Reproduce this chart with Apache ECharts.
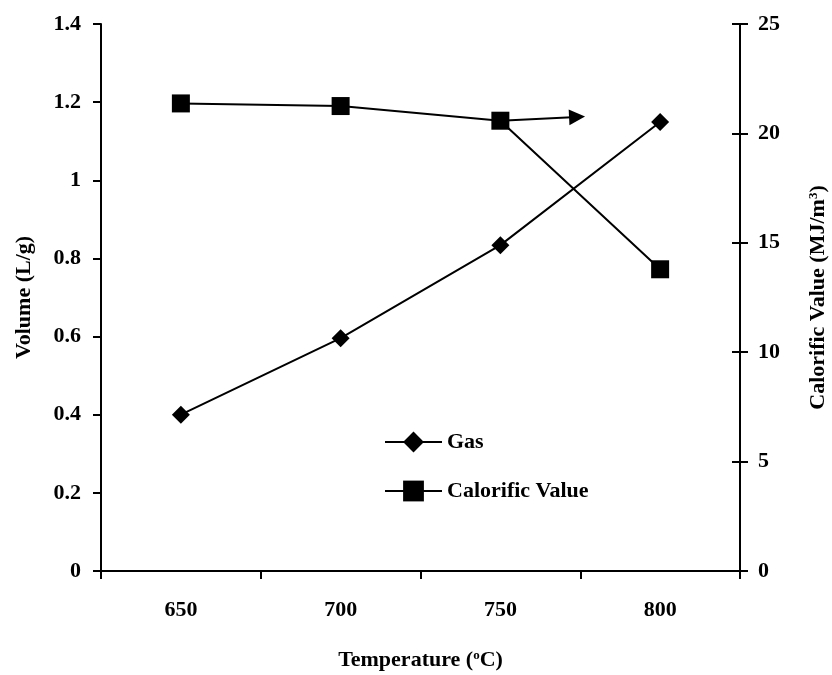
<!DOCTYPE html>
<html>
<head>
<meta charset="utf-8">
<script src="https://cdn.jsdelivr.net/npm/echarts@6/dist/echarts.min.js"></script>
<style>
  html, body { margin: 0; padding: 0; background: #fff; }
  #chart { width: 832px; height: 675px; }
</style>
</head>
<body>
<div id="chart"></div>
<script>
// Gas volume and calorific value of the product gas versus temperature
var temperatures = ['650', '700', '750', '800'];
var gasVolume = [0.40, 0.596, 0.834, 1.149];          // L/g, left axis
var calorificValue = [21.37, 21.25, 20.58, 13.79];     // MJ/m3, right axis
var volumeTicks = { min: 0, max: 1.4, interval: 0.2 };
var calorificTicks = { min: 0, max: 25, interval: 5 };
// Pointer from the 750 °C calorific point toward the right-hand axis
var arrowStart = [2.5, calorificValue[2]];
var arrowEnd = [2.98, 20.75];

var FONT = '"Liberation Serif", "Times New Roman", serif';
var INK = '#000';
var supStyle = { fontSize: 13, fontWeight: 'bold', fontFamily: FONT, color: INK, verticalAlign: 'top' };

var chart = echarts.init(document.getElementById('chart'), null, { renderer: 'canvas' });
chart.setOption({
  animation: false,
  backgroundColor: '#fff',
  textStyle: { fontFamily: FONT, color: INK },
  grid: { left: 101, right: 92, top: 24, bottom: 104, containLabel: false, outerBoundsMode: 'none' },
  legend: {
    data: ['Gas', 'Calorific Value'],
    orient: 'vertical',
    left: 379,
    top: 426,
    itemWidth: 57,
    itemHeight: 26,
    itemGap: 27,
    textStyle: { fontFamily: FONT, fontWeight: 'bold', fontSize: 22, color: INK }
  },
  xAxis: [{
    type: 'category',
    data: temperatures,
    boundaryGap: true,
    name: 'Temperature ({sup|o}C)',
    nameLocation: 'middle',
    nameGap: 78,
    nameTextStyle: {
      fontFamily: FONT, fontWeight: 'bold', fontSize: 22, color: INK,
      rich: { sup: supStyle }
    },
    axisLine: { lineStyle: { color: INK, width: 2 } },
    axisTick: { show: true, length: 8, alignWithLabel: false, lineStyle: { color: INK, width: 2 } },
    axisLabel: { margin: 28, fontFamily: FONT, fontWeight: 'bold', fontSize: 22, color: INK },
    splitLine: { show: false }
  }, {
    // hidden linear axis spanning the same width, used to place the pointer arrow
    type: 'value',
    min: 0,
    max: 4,
    show: false
  }],
  yAxis: [{
    type: 'value',
    position: 'left',
    min: volumeTicks.min, max: volumeTicks.max, interval: volumeTicks.interval,
    name: 'Volume (L/g)',
    nameLocation: 'middle',
    nameGap: 66,
    nameRotate: 90,
    nameTextStyle: { fontFamily: FONT, fontWeight: 'bold', fontSize: 22, color: INK },
    axisLine: { show: true, lineStyle: { color: INK, width: 2 } },
    axisTick: { show: true, length: 8, lineStyle: { color: INK, width: 2 } },
    axisLabel: { margin: 20, fontFamily: FONT, fontWeight: 'bold', fontSize: 22, color: INK },
    splitLine: { show: false }
  }, {
    type: 'value',
    position: 'right',
    min: calorificTicks.min, max: calorificTicks.max, interval: calorificTicks.interval,
    name: 'Calorific Value (MJ/m{sup|3})',
    nameLocation: 'middle',
    nameGap: 67,
    nameRotate: 90,
    nameTextStyle: {
      fontFamily: FONT, fontWeight: 'bold', fontSize: 22, color: INK,
      rich: { sup: supStyle }
    },
    axisLine: { show: true, lineStyle: { color: INK, width: 2 } },
    axisTick: { show: true, length: 8, lineStyle: { color: INK, width: 2 } },
    axisLabel: { margin: 18, fontFamily: FONT, fontWeight: 'bold', fontSize: 22, color: INK },
    splitLine: { show: false }
  }, {
    // inner half of the crossing ticks on the right axis
    type: 'value',
    position: 'right',
    min: calorificTicks.min, max: calorificTicks.max, interval: calorificTicks.interval,
    axisLine: { show: false },
    axisTick: { show: true, inside: true, length: 8, lineStyle: { color: INK, width: 2 } },
    axisLabel: { show: false },
    splitLine: { show: false }
  }],
  series: [{
    name: 'Gas',
    type: 'line',
    xAxisIndex: 0,
    yAxisIndex: 0,
    data: gasVolume,
    symbol: 'diamond',
    symbolSize: 18,
    itemStyle: { color: INK },
    lineStyle: { color: INK, width: 2 }
  }, {
    name: 'Calorific Value',
    type: 'line',
    xAxisIndex: 0,
    yAxisIndex: 1,
    data: calorificValue,
    symbol: 'rect',
    symbolSize: 18,
    itemStyle: { color: INK },
    lineStyle: { color: INK, width: 2 }
  }, {
    name: 'pointer',
    type: 'line',
    xAxisIndex: 1,
    yAxisIndex: 1,
    data: [],
    silent: true,
    markLine: {
      silent: true,
      symbol: ['none', 'triangle'],
      symbolSize: 16,
      label: { show: false },
      lineStyle: { color: INK, width: 2, type: 'solid' },
      emphasis: { disabled: true },
      data: [[{ coord: arrowStart }, { coord: arrowEnd }]]
    }
  }]
});
</script>
</body>
</html>
